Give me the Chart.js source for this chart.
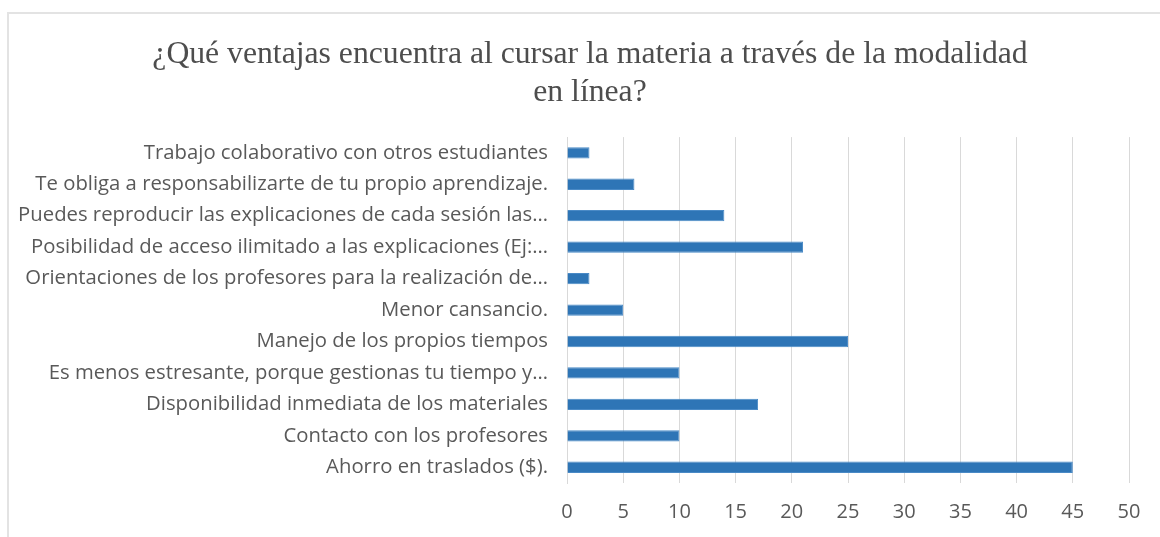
<title>Ventajas modalidad en línea</title>

<script src="https://cdn.jsdelivr.net/npm/chart.js@4.4.1/dist/chart.umd.min.js"></script>

<div id="frame"></div>
<canvas id="ventajasChart" width="1180" height="537"></canvas>

<script>
  // categories, top to bottom as they appear in the chart
  const categories = [
    "Trabajo colaborativo con otros estudiantes",
    "Te obliga a responsabilizarte de tu propio aprendizaje.",
    "Puedes reproducir las explicaciones de cada sesión las…",
    "Posibilidad de acceso ilimitado a las explicaciones (Ej:…",
    "Orientaciones de los profesores para la realización de…",
    "Menor cansancio.",
    "Manejo de los propios tiempos",
    "Es menos estresante, porque gestionas tu tiempo y…",
    "Disponibilidad inmediata de los materiales",
    "Contacto con los profesores",
    "Ahorro en traslados ($)."
  ];
  const respuestas = [2, 6, 14, 21, 2, 5, 25, 10, 17, 10, 45];
  const xTicks = [0, 5, 10, 15, 20, 25, 30, 35, 40, 45, 50];
  const titleLines = [
    "¿Qué ventajas encuentra al cursar la materia a través de la modalidad",
    "en línea?"
  ];

  const grey = "#595959";
  const gridGrey = "#d9d9d9";

  const ctx = document.getElementById("ventajasChart").getContext("2d");

  const chart = new Chart(ctx, {
    type: "bar",
    data: {
      labels: categories,
      datasets: [{
        data: respuestas,
        backgroundColor: "#2e75b6",
        borderColor: "#4a8ac6",
        borderWidth: 1,
        categoryPercentage: 1,
        barPercentage: 0.36
      }]
    },
    options: {
      indexAxis: "y",
      responsive: false,
      animation: false,
      layout: {
        padding: { left: 0, right: 0, top: 0, bottom: 12 }
      },
      plugins: {
        legend: { display: false },
        tooltip: { enabled: false },
        title: {
          display: true,
          text: titleLines,
          color: "#4d4d4d",
          font: { family: "'Liberation Serif', 'Times New Roman', serif", size: 31.7, weight: "normal", lineHeight: 1.2 },
          padding: { top: 36, bottom: 25 }
        }
      },
      scales: {
        x: {
          min: 0,
          max: 50,
          afterBuildTicks: (scale) => { scale.ticks = xTicks.map(v => ({ value: v })); },
          afterFit: (scale) => { scale.height = 42; },
          grid: { color: gridGrey, lineWidth: 1, drawTicks: false },
          border: { display: false },
          ticks: {
            color: grey,
            padding: 17,
            font: { family: "'Open Sans', sans-serif", size: 20 }
          }
        },
        y: {
          afterFit: (scale) => { scale.width = 567; },
          grid: { display: false, drawTicks: false },
          border: { display: true, color: gridGrey, width: 1 },
          ticks: {
            color: grey,
            padding: 19,
            autoSkip: false,
            font: { family: "'Open Sans', sans-serif", size: 20.3 }
          }
        },
        // empty space on the right of the plot, inside the chart frame
        yRight: {
          type: "linear",
          position: "right",
          afterFit: (scale) => { scale.width = 51; },
          grid: { display: false, drawTicks: false },
          border: { display: false },
          ticks: { display: false }
        }
      }
    }
  });
</script>

<style>
  body {
    margin: 0;
    background: #fff;
    overflow: hidden;
  }
  #frame {
    position: absolute;
    left: 7px;
    top: 12px;
    width: 1200px;
    height: 600px;
    border: 2px solid #e3e3e3;
  }
  #ventajasChart {
    position: absolute;
    left: 0;
    top: 0;
  }
</style>
